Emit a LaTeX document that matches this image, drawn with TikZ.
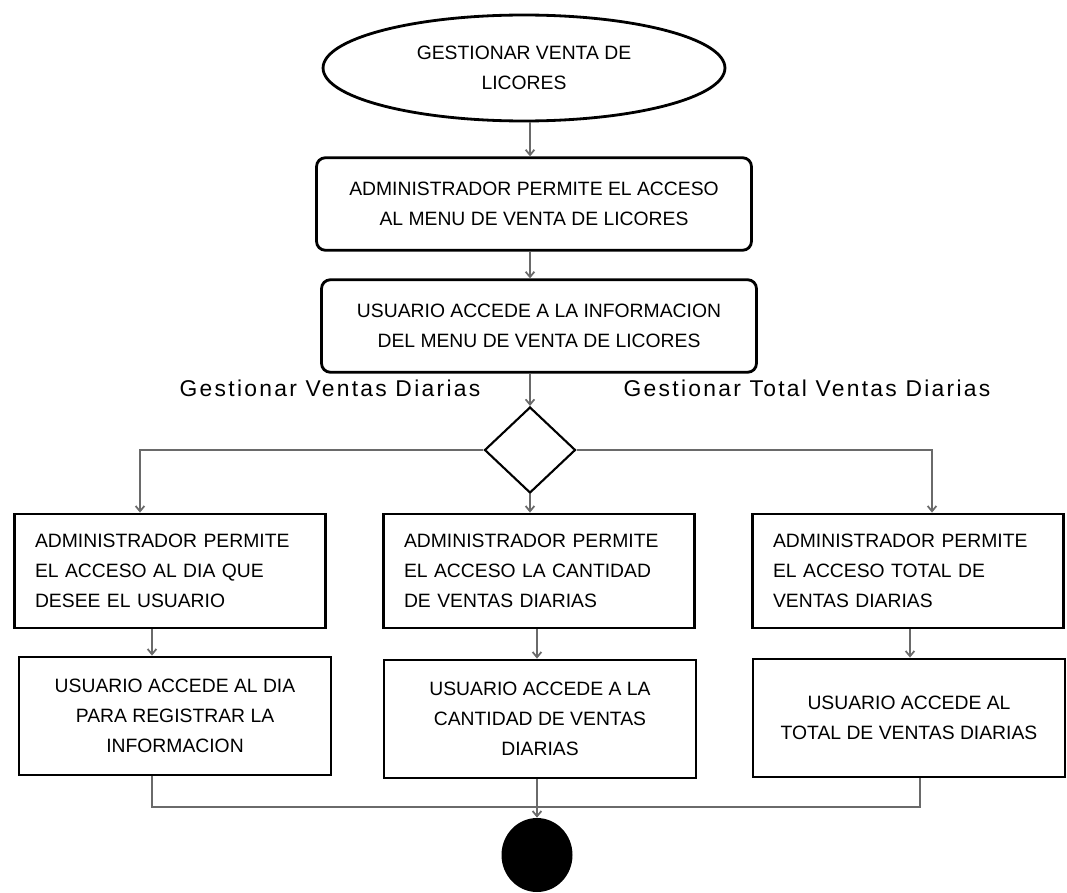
\documentclass[tikz,border=0pt]{standalone}
\usepackage{fontspec}
\setmainfont{Liberation Sans}
\newfontfamily\rotulo[LetterSpace=10]{Liberation Sans}
\usetikzlibrary{arrows.meta,shapes.geometric}
\definecolor{linea}{HTML}{6A6A6A}

\begin{document}
\begin{tikzpicture}[x=0.02cm,y=-0.02cm,
  texto/.style={font=\fontsize{11}{17}\selectfont},
  inicio/.style={ellipse,draw,line width=1.6pt,minimum width=8.04cm,minimum height=2.12cm,texto,align=center},
  menu/.style={rectangle,rounded corners=5pt,draw,line width=1.6pt,minimum width=8.7cm,minimum height=1.85cm,texto,align=center},
  accion/.style={rectangle,draw,line width=1.6pt,minimum width=6.22cm,minimum height=2.28cm,texto,align=left,text width=5.4cm},
  respuesta/.style={rectangle,draw,line width=1.6pt,minimum width=6.24cm,minimum height=2.36cm,texto,align=center},
  decision/.style={diamond,draw,line width=1.2pt,minimum width=1.82cm,minimum height=1.72cm,inner sep=0pt},
  fin/.style={ellipse,fill=black,minimum width=1.42cm,minimum height=1.48cm,inner sep=0pt},
  etiqueta/.style={font=\rotulo\fontsize{13}{15}\selectfont},
  conector/.style={draw=linea,line width=1pt},
  flecha/.style={conector,-{Straight Barb[length=3pt,width=5pt]}}]
  \useasboundingbox (0,0) rectangle (1067,892);

  \coordinate (eje) at (530,0);
  \coordinate (ramaIzq) at (140,0);
  \coordinate (ramaDer) at (932,0);
  \coordinate (colIzq) at (152,0);
  \coordinate (colCen) at (537,0);
  \coordinate (colDer) at (910,0);
  \coordinate (bajaDer) at (920,0);
  \coordinate (union) at (537,807);

  \node[inicio] (inicio) at (524,68) {GESTIONAR VENTA DE\\LICORES};
  \node[menu] (acceso) at (534,204) {ADMINISTRADOR PERMITE EL ACCESO\\AL MENU DE VENTA DE LICORES};
  \node[menu] (info) at (539,326) {USUARIO ACCEDE A LA INFORMACION\\DEL MENU DE VENTA DE LICORES};
  \node[etiqueta] (lblDiarias) at (330,388) {Gestionar Ventas Diarias};
  \node[etiqueta] (lblTotal) at (807,388) {Gestionar Total Ventas Diarias};
  \node[decision] (decision) at (530,450) {};

  \node[accion] (izq1) at (170,571) {ADMINISTRADOR PERMITE\\EL ACCESO AL DIA QUE\\DESEE EL USUARIO};
  \node[accion] (cen1) at (539,571) {ADMINISTRADOR PERMITE\\EL ACCESO LA CANTIDAD\\DE VENTAS DIARIAS};
  \node[accion] (der1) at (908,571) {ADMINISTRADOR PERMITE\\EL ACCESO TOTAL DE\\VENTAS DIARIAS};

  \node[respuesta] (izq2) at (175,716) {USUARIO ACCEDE AL DIA\\PARA REGISTRAR LA\\INFORMACION};
  \node[respuesta] (cen2) at (540,719) {USUARIO ACCEDE A LA\\CANTIDAD DE VENTAS\\DIARIAS};
  \node[respuesta] (der2) at (909,718) {USUARIO ACCEDE AL\\TOTAL DE VENTAS DIARIAS};

  \node[fin] (fin) at (537,855) {};

  \draw[flecha] (inicio.south -| eje) -- (acceso.north -| eje);
  \draw[flecha] (acceso.south -| eje) -- (info.north -| eje);
  \draw[flecha] (info.south -| eje) -- (decision.north);
  \draw[flecha] (decision.west) -| (ramaIzq |- izq1.north);
  \draw[flecha] (decision.east) -| (ramaDer |- der1.north);
  \draw[flecha] (decision.south) -- (decision.south |- cen1.north);
  \draw[flecha] (izq1.south -| colIzq) -- (izq2.north -| colIzq);
  \draw[flecha] (cen1.south -| colCen) -- (cen2.north -| colCen);
  \draw[flecha] (der1.south -| colDer) -- (der2.north -| colDer);
  \draw[conector] (izq2.south -| colIzq) |- (union) -| (der2.south -| bajaDer);
  \draw[flecha] (cen2.south -| colCen) -- (fin.north);
\end{tikzpicture}
\end{document}
